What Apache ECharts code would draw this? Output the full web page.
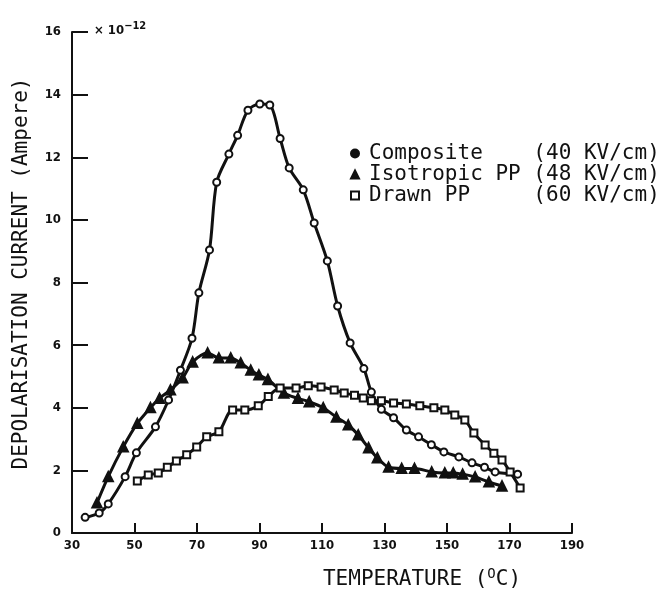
<!DOCTYPE html>
<html>
<head>
<meta charset="utf-8">
<style>
  html, body { margin: 0; padding: 0; background: #fff; }
  #chart { width: 666px; height: 591px; }
</style>
<script src="https://cdn.jsdelivr.net/npm/echarts@6/dist/echarts.min.js"></script>
</head>
<body>
<div id="chart"></div>
<script>
// temperature (deg C), current (x 1e-12 A)
const composite = [
  [34.2, 0.5], [38.7, 0.64], [41.6, 0.93], [47, 1.8], [50.6, 2.56], [56.7, 3.39],
  [60.9, 4.25], [64.7, 5.2], [68.4, 6.22], [70.6, 7.67], [74, 9.04], [76.3, 11.2],
  [80.2, 12.1], [83, 12.7], [86.3, 13.5], [90.1, 13.7], [93.3, 13.67], [96.6, 12.6],
  [99.5, 11.66], [104, 10.96], [107.5, 9.9], [111.7, 8.69], [115, 7.25], [119, 6.07],
  [123.4, 5.25], [125.8, 4.5], [129, 3.95], [132.9, 3.68], [137, 3.29], [140.9, 3.07],
  [145, 2.82], [149, 2.59], [153.8, 2.43], [158, 2.24], [162, 2.1], [165.4, 1.95],
  [172.6, 1.88]
]
const isotropic = [
  [38, 0.96], [41.6, 1.8], [46.4, 2.75], [50.9, 3.5], [55.1, 4.0], [58, 4.3],
  [61.5, 4.57], [65.4, 4.95], [68.6, 5.46], [73.4, 5.75], [77, 5.59], [80.8, 5.59],
  [84, 5.43], [87.2, 5.2], [89.8, 5.05], [92.7, 4.9], [97.8, 4.47], [102.3, 4.3],
  [105.9, 4.19], [110.4, 4.0], [114.6, 3.7], [118.4, 3.45], [121.6, 3.13], [124.9, 2.72],
  [127.7, 2.4], [131.3, 2.1], [135.5, 2.06], [139.6, 2.06], [145.1, 1.95], [149.3, 1.92],
  [152, 1.92], [155, 1.88], [159, 1.79], [163.4, 1.63], [167.6, 1.5]
]
const drawn = [
  [50.9, 1.66], [54.4, 1.85], [57.6, 1.92], [60.5, 2.1], [63.4, 2.3], [66.7, 2.5],
  [69.9, 2.75], [73.1, 3.07], [77, 3.23], [81.4, 3.93], [85.3, 3.93], [89.6, 4.06],
  [92.8, 4.36], [96.6, 4.63], [101.7, 4.63], [105.6, 4.7], [109.7, 4.66], [113.9, 4.57],
  [117.1, 4.47], [120.4, 4.4], [123.2, 4.31], [125.8, 4.22], [129, 4.22], [132.9, 4.15],
  [137, 4.12], [141.3, 4.06], [145.8, 4.0], [149.3, 3.93], [152.5, 3.77], [155.7, 3.61],
  [158.6, 3.19], [162.2, 2.81], [165, 2.55], [167.6, 2.33], [170.2, 1.95], [173.4, 1.44]
]
const seriesNames = ['Composite', 'Isotropic PP', 'Drawn PP']
const fieldLabels = ['(40 KV/cm)', '(48 KV/cm)', '(60 KV/cm)']

const mono = '"DejaVu Sans Mono", "Liberation Mono", monospace'
const tickFont = '"DejaVu Sans Condensed", "DejaVu Sans", sans-serif'
const ink = '#111'

const chart = echarts.init(document.getElementById('chart'), null, { renderer: 'canvas' })

function lineSeries(name, data, symbol, size) {
  return {
    name,
    type: 'line',
    data,
    smooth: 0.3,
    symbol,
    symbolSize: size,
    showAllSymbol: true,
    lineStyle: { color: ink, width: 3 },
    itemStyle: { color: ink, borderColor: ink, borderWidth: 2.2 },
    z: 3
  }
}

chart.setOption({
  animation: false,
  backgroundColor: '#fff',
  grid: { left: 72, right: 94, top: 32, bottom: 58, outerBoundsMode: 'none', containLabel: false },
  legend: {
    orient: 'vertical',
    left: 345,
    top: 138,
    itemGap: 0,
    itemWidth: 8,
    itemHeight: 8,
    textStyle: { fontFamily: mono, fontSize: 21, color: ink, lineHeight: 20.5, padding: [0, 0, 0, 5] },
    formatter: (name) => {
      const i = seriesNames.indexOf(name)
      return name.padEnd(13, ' ') + fieldLabels[i]
    },
    data: [
      { name: 'Composite', icon: 'circle' },
      { name: 'Isotropic PP', icon: 'triangle' },
      { name: 'Drawn PP', icon: 'emptyRect', itemStyle: { borderWidth: 2.5, color: ink, borderColor: ink } }
    ]
  },
  xAxis: {
    type: 'value',
    min: 30,
    max: 190,
    interval: 20,
    axisLine: { onZero: false, lineStyle: { color: ink, width: 2 } },
    axisTick: { inside: true, length: 10, lineStyle: { color: ink, width: 2 } },
    axisLabel: { color: ink, fontFamily: tickFont, fontWeight: 'bold', fontSize: 13, margin: 6 },
    splitLine: { show: false },
    name: 'TEMPERATURE ({sup|O}C)',
    nameLocation: 'middle',
    nameGap: 34,
    nameTextStyle: {
      fontFamily: mono, fontSize: 21, color: ink, padding: [0, 0, 0, 200],
      rich: { sup: { fontFamily: mono, fontSize: 14, color: ink, verticalAlign: 'top', padding: [0, 0, 12, 0] } }
    }
  },
  yAxis: {
    type: 'value',
    min: 0,
    max: 16,
    interval: 2,
    axisLine: { show: true, lineStyle: { color: ink, width: 2 } },
    axisTick: { show: true, inside: true, length: 16, lineStyle: { color: ink, width: 2 } },
    axisLabel: { color: ink, fontFamily: tickFont, fontWeight: 'bold', fontSize: 13, margin: 11 },
    splitLine: { show: false },
    name: 'DEPOLARISATION CURRENT (Ampere)',
    nameLocation: 'middle',
    nameGap: 40,
    nameTextStyle: { fontFamily: mono, fontSize: 21, color: ink, padding: [0, 0, 0, 18] }
  },
  graphic: [
    {
      type: 'text',
      left: 94,
      top: 21,
      style: {
        text: '\u00d7 10{sup|\u221212}',
        fontFamily: tickFont,
        fontWeight: 'bold',
        fontSize: 13,
        fill: ink,
        rich: { sup: { fontFamily: tickFont, fontWeight: 'bold', fontSize: 11, fill: ink, padding: [0, 0, 9, 0] } }
      }
    }
  ],
  series: [
    lineSeries('Composite', composite, 'emptyCircle', 7),
    lineSeries('Isotropic PP', isotropic, 'triangle', 9),
    lineSeries('Drawn PP', drawn, 'emptyRect', 7)
  ]
})
</script>
</body>
</html>
